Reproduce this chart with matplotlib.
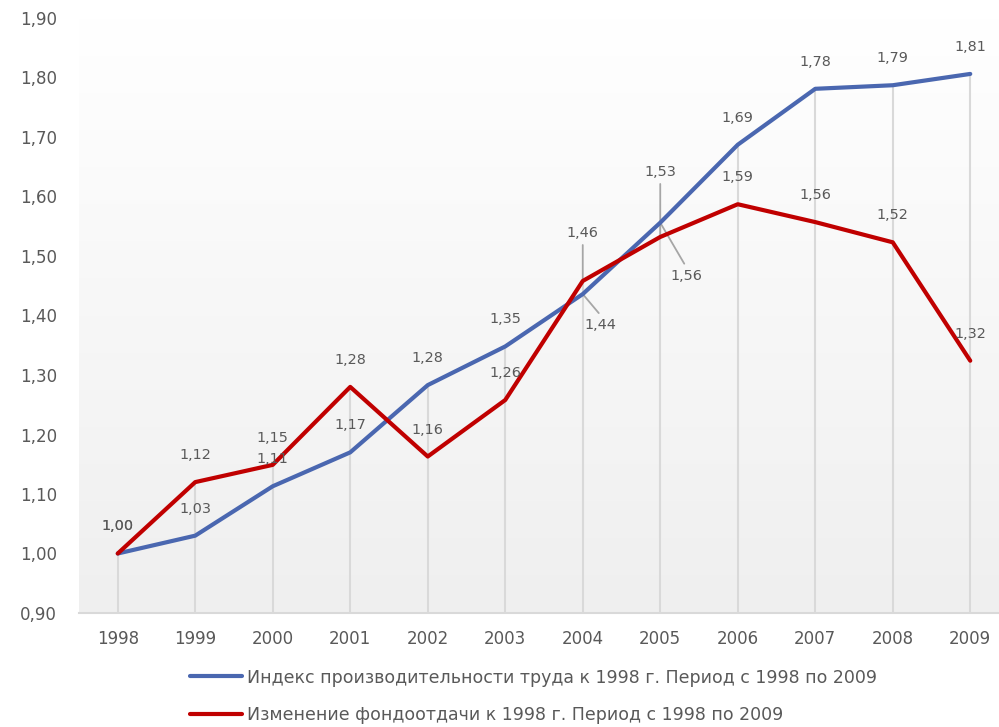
import numpy as np
import matplotlib
matplotlib.use("Agg")
import matplotlib.pyplot as plt
from matplotlib.colors import LinearSegmentedColormap

years = [1998, 1999, 2000, 2001, 2002, 2003, 2004, 2005, 2006, 2007, 2008, 2009]
productivity = [1.00, 1.03, 1.113, 1.17, 1.283, 1.348, 1.436, 1.556, 1.687, 1.781, 1.787, 1.806]
capital_return = [1.00, 1.12, 1.149, 1.28, 1.163, 1.258, 1.458, 1.532, 1.587, 1.557, 1.523, 1.324]
series_names = ["Индекс производительности труда к 1998 г. Период с 1998 по 2009",
                "Изменение фондоотдачи к 1998 г. Период с 1998 по 2009"]
y_ticks = [0.90, 1.00, 1.10, 1.20, 1.30, 1.40, 1.50, 1.60, 1.70, 1.80, 1.90]

plt.rcParams['font.family'] = ['DejaVu Sans']
TXT = '#595959'
BLUE = '#4a67b0'
RED = '#c00000'

fig = plt.figure(figsize=(9.99, 7.27), dpi=100)
ax = fig.add_axes([79/999, (727-613)/727, (1009-79)/999, (613-18)/727])
ax.set_xlim(1997.5, 2009.5)
ax.set_ylim(0.9, 1.9)

# gradient background
grad = np.linspace(0, 1, 256).reshape(-1, 1)
cmap = LinearSegmentedColormap.from_list('g', ['#efefef', '#ffffff'])
ax.imshow(grad, extent=(1997.5, 2009.5, 0.9, 1.9), aspect='auto', cmap=cmap,
          origin='lower', zorder=0)

# drop lines
tops = np.maximum(productivity, capital_return)
ax.vlines(years, 0.9, tops, color='#d9d9d9', lw=1.5, zorder=1)

ax.plot(years, productivity, color=BLUE, lw=3, solid_capstyle='round', zorder=3, label=series_names[0])
ax.plot(years, capital_return, color=RED, lw=3, solid_capstyle='round', zorder=3, label=series_names[1])

def fmt(v):
    return f"{v:.2f}".replace('.', ',')

special = {
    ('b', 2004): (18, -31, True),
    ('r', 2004): (0, 48, True),
    ('b', 2005): (26, -53, True),
    ('r', 2005): (0, 65, True),
}

for key, vals in (('b', productivity), ('r', capital_return)):
    for x, v in zip(years, vals):
        dx, dy, leader = special.get((key, x), (0, 27, False))
        ax.annotate(fmt(v), (x, v), xytext=(dx, dy), textcoords='offset pixels',
                    ha='center', va='center', fontsize=10.4, color=TXT, zorder=5)
        if leader:
            if dy > 0:
                end = (dx, dy - 12)
            else:
                end = (dx - 2, dy + 12)
            ax.annotate('', (x, v), xytext=end, textcoords='offset pixels',
                        arrowprops=dict(arrowstyle='-', color='#a6a6a6', lw=1.3,
                                        shrinkA=0, shrinkB=0), zorder=2)

ax.set_yticks(y_ticks)
ax.set_yticklabels([fmt(t) for t in y_ticks])
ax.set_xticks(years)
ax.set_xticklabels([str(y) for y in years])
ax.tick_params(axis='both', length=0, labelsize=12, colors=TXT)
ax.tick_params(axis='y', pad=16)
ax.tick_params(axis='x', pad=12)
for s in ['top', 'right', 'left']:
    ax.spines[s].set_visible(False)
ax.spines['bottom'].set_color('#d9d9d9')
ax.spines['bottom'].set_linewidth(1.5)

fig.legend(loc='center', bbox_to_anchor=(0.534, 0.0425), ncol=1, frameon=False,
           fontsize=12.5, labelcolor=TXT, handlelength=3.0, handletextpad=0.25,
           labelspacing=1.1)

fig.savefig('out.png', dpi=100)
